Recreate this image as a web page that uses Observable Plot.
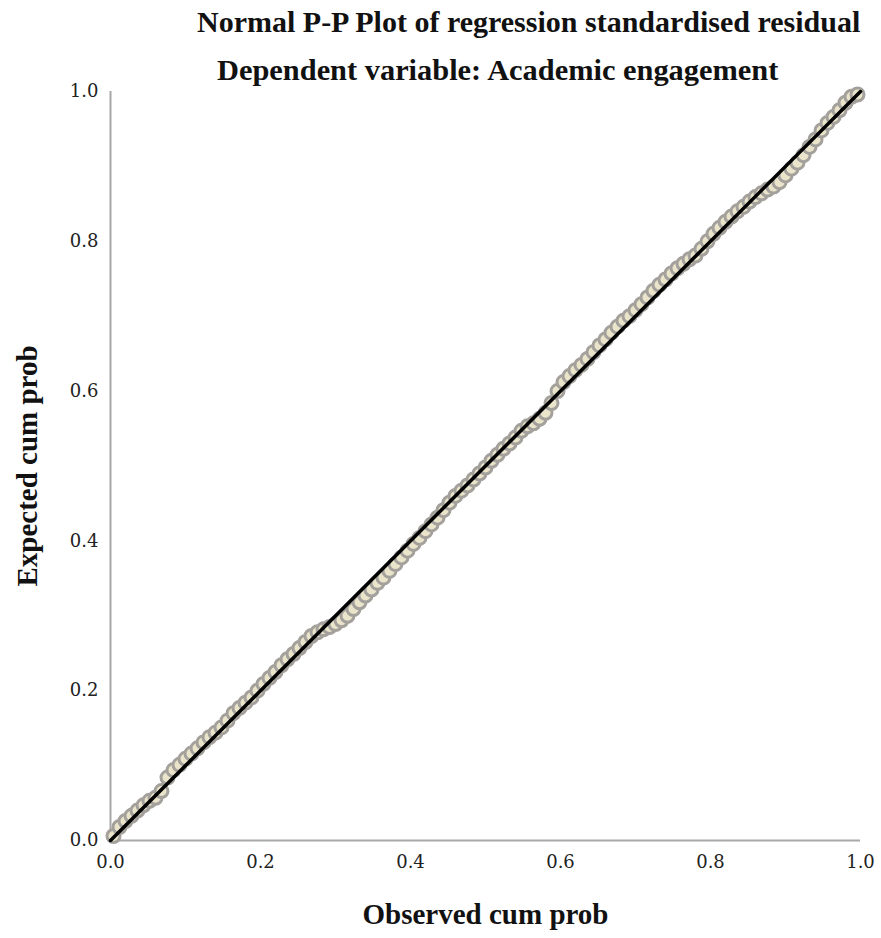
<!DOCTYPE html>
<html>
<head>
<meta charset="utf-8">
<script src="https://cdn.jsdelivr.net/npm/d3@7"></script>
<script src="https://cdn.jsdelivr.net/npm/@observablehq/plot@0.6"></script>
<style>
  html, body { margin: 0; padding: 0; background: #fff; }
  #wrap { position: relative; width: 881px; height: 938px; }
  .ttl { position: absolute; font-family: "Liberation Serif", "Times New Roman", serif; font-weight: bold; color: #111; white-space: nowrap; font-size: 30px; line-height: 1; }
  #chart { position: absolute; left: 0; top: 0; }
</style>
</head>
<body>
<div id="wrap">
  <div id="chart"></div>
  <div class="ttl" id="t1" style="left:197px; top:7px;"></div>
  <div class="ttl" id="t2" style="left:217px; top:55px; font-size:30.4px;"></div>
</div>
<script>
const title = "Normal P-P Plot of regression standardised residual";
const subtitle = "Dependent variable: Academic engagement";
const xLabel = "Observed cum prob";
const yLabel = "Expected cum prob";
const ticks = [0, 0.2, 0.4, 0.6, 0.8, 1.0];

const observed = [0.004,0.012,0.020,0.028,0.036,0.044,0.052,0.060,0.068,0.076,0.084,0.092,0.100,0.108,0.116,0.124,0.132,0.140,0.148,0.156,0.164,0.172,0.180,0.188,0.196,0.204,0.212,0.220,0.228,0.236,0.244,0.252,0.260,0.268,0.276,0.284,0.292,0.300,0.308,0.316,0.324,0.332,0.340,0.348,0.356,0.364,0.372,0.380,0.388,0.396,0.404,0.412,0.420,0.428,0.436,0.444,0.452,0.460,0.468,0.476,0.484,0.492,0.500,0.508,0.516,0.524,0.532,0.540,0.548,0.556,0.564,0.572,0.580,0.588,0.596,0.604,0.612,0.620,0.628,0.636,0.644,0.652,0.660,0.668,0.676,0.684,0.692,0.700,0.708,0.716,0.724,0.732,0.740,0.748,0.756,0.764,0.772,0.780,0.788,0.796,0.804,0.812,0.820,0.828,0.836,0.844,0.852,0.860,0.868,0.876,0.884,0.892,0.900,0.908,0.916,0.924,0.932,0.940,0.948,0.956,0.964,0.972,0.980,0.988,0.996];

const expected = [0.006,0.018,0.026,0.033,0.040,0.047,0.053,0.057,0.066,0.084,0.094,0.101,0.109,0.116,0.123,0.131,0.138,0.144,0.151,0.160,0.170,0.177,0.184,0.191,0.200,0.209,0.217,0.225,0.234,0.242,0.249,0.257,0.265,0.273,0.278,0.282,0.285,0.289,0.294,0.300,0.309,0.318,0.327,0.335,0.344,0.351,0.360,0.369,0.378,0.387,0.396,0.404,0.413,0.422,0.431,0.441,0.451,0.460,0.467,0.474,0.482,0.490,0.498,0.507,0.515,0.523,0.530,0.538,0.547,0.553,0.557,0.563,0.571,0.584,0.600,0.612,0.620,0.628,0.635,0.643,0.652,0.661,0.669,0.678,0.686,0.694,0.700,0.708,0.716,0.725,0.734,0.742,0.749,0.757,0.764,0.770,0.776,0.781,0.790,0.800,0.810,0.818,0.826,0.833,0.840,0.846,0.853,0.859,0.864,0.869,0.873,0.879,0.888,0.897,0.905,0.915,0.926,0.936,0.948,0.958,0.966,0.975,0.985,0.993,0.996];

const refLine = [[0, 0], [1, 1]];

const points = observed.map((x, i) => ({x, y: expected[i]}));

const chart = Plot.plot({
  width: 881,
  height: 938,
  marginTop: 91,
  marginBottom: 98,
  marginLeft: 110,
  marginRight: 21,
  style: { fontFamily: "'DejaVu Serif', serif", fontSize: "18px", color: "#222", background: "transparent" },
  x: { domain: [0, 1] },
  y: { domain: [0, 1] },
  marks: [
    Plot.axisX(ticks, { tickSize: 0, tickPadding: 15, tickFormat: d3.format(".1f"), label: null, fontSize: 18 }),
    Plot.axisY(ticks, { tickSize: 0, tickPadding: 12, tickFormat: d3.format(".1f"), label: null, fontSize: 18 }),
    Plot.ruleX([0], { stroke: "#a8a8a8", strokeWidth: 2 }),
    Plot.ruleY([0], { stroke: "#a8a8a8", strokeWidth: 2 }),
    Plot.dot(points, { x: "x", y: "y", r: 6.5, fill: "#e9e4ca", stroke: "#a4a19c", strokeWidth: 3 }),
    Plot.line(refLine, { x: d => d[0], y: d => d[1], stroke: "#000", strokeWidth: 3.5 }),
    Plot.text([xLabel], { frameAnchor: "bottom", dy: 83, text: d => d, fontFamily: "'Liberation Serif', serif", fontWeight: "bold", fontSize: 29, fill: "#111" }),
    Plot.text([yLabel], { frameAnchor: "left", dx: -83, rotate: -90, textAnchor: "middle", text: d => d, fontFamily: "'Liberation Serif', serif", fontWeight: "bold", fontSize: 29, fill: "#111" })
  ]
});
document.getElementById("chart").appendChild(chart);
document.getElementById("t1").textContent = title;
document.getElementById("t2").textContent = subtitle;
</script>
</body>
</html>
